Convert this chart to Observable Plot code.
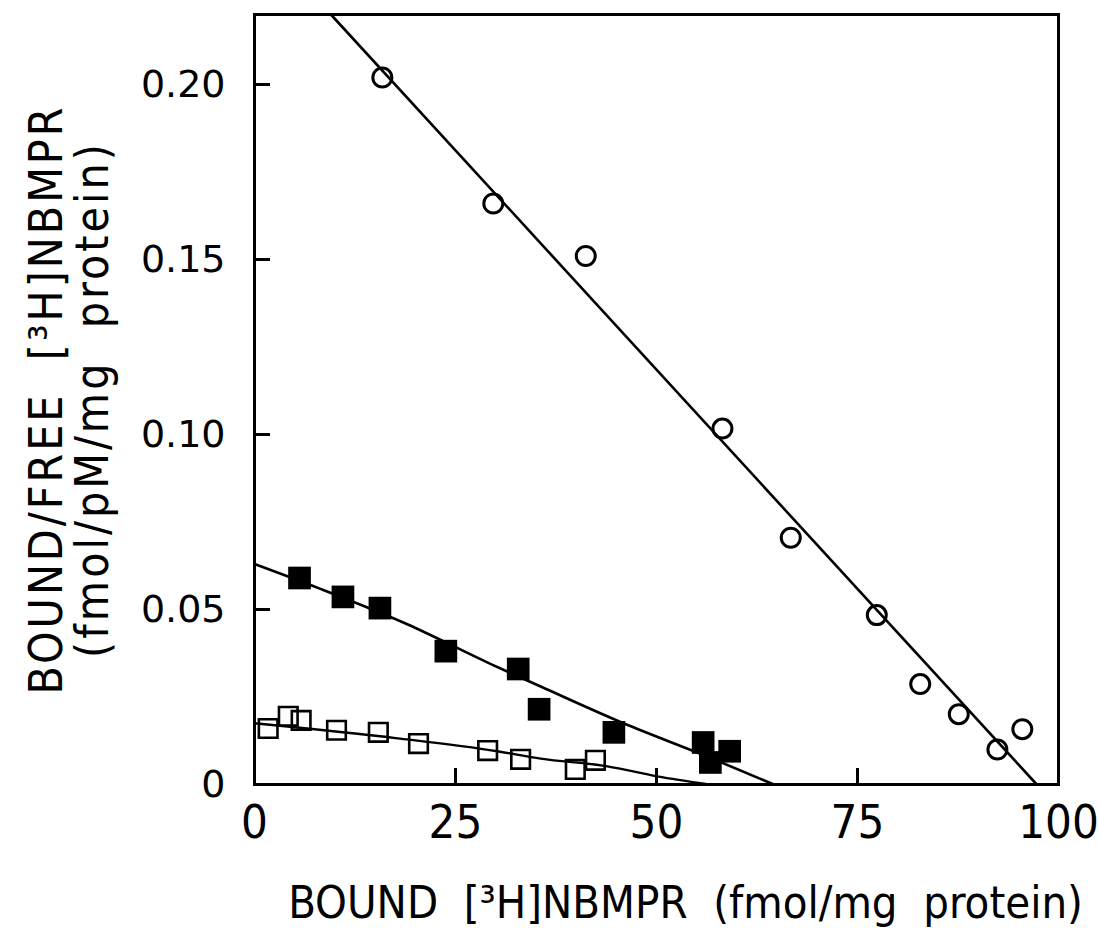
<!DOCTYPE html>
<html>
<head>
<meta charset="utf-8">
<script src="https://cdn.jsdelivr.net/npm/d3@7"></script>
<script src="https://cdn.jsdelivr.net/npm/@observablehq/plot@0.6"></script>
<style>
  html, body { margin: 0; padding: 0; background: #fff; }
  #chart svg { display: block; }
</style>
</head>
<body>
<div id="chart"></div>
<script>
// Open circles
const circleX = [15.9, 29.7, 41.2, 58.2, 66.7, 77.4, 82.8, 87.6, 92.4, 95.5];
const circleY = [0.202, 0.166, 0.151, 0.1017, 0.0705, 0.0484, 0.0287, 0.0201, 0.0100, 0.0158];
// Filled squares
const filledX = [5.6, 11.0, 15.6, 23.8, 32.8, 35.4, 44.7, 55.8, 56.7, 59.1];
const filledY = [0.059, 0.0536, 0.0504, 0.0381, 0.033, 0.0215, 0.0149, 0.0120, 0.0063, 0.0095];
// Open squares
const openX = [1.7, 4.2, 5.8, 10.2, 15.4, 20.4, 29.0, 33.1, 39.9, 42.4];
const openY = [0.016, 0.0195, 0.0183, 0.0155, 0.0149, 0.0117, 0.0097, 0.0072, 0.0043, 0.0069];
// Fitted lines
const circleLineX = [9.5, 97.3];
const circleLineY = [0.22, 0];
const filledLineX = [0, 8.2, 19.0, 29.4, 35.6, 45.9, 56.3, 64.6];
const filledLineY = [0.063, 0.0559, 0.0458, 0.0344, 0.0280, 0.0175, 0.0080, 0];
const openLineX = [0, 17.8, 30.2, 35.6, 43.9, 50.1, 56.5];
const openLineY = [0.0175, 0.0132, 0.0095, 0.0074, 0.0052, 0.0023, 0];
// Axes
const xTicks = [0, 25, 50, 75, 100];
const xInnerTicks = [25, 50, 75];
const yTicks = [0, 0.05, 0.10, 0.15, 0.20];
const yInnerTicks = [0.05, 0.10, 0.15, 0.20];
const xTitle = "BOUND  [³H]NBMPR  (fmol/mg  protein)";
const yTitle = "BOUND/FREE  [³H]NBMPR\n(fmol/pM/mg  protein)";

const pts = (xs, ys) => xs.map((x, i) => ({x, y: ys[i]}));
const circles = pts(circleX, circleY);
const filled = pts(filledX, filledY);
const open = pts(openX, openY);
const circleLine = pts(circleLineX, circleLineY);
const filledLine = pts(filledLineX, filledLineY);
const openLine = pts(openLineX, openLineY);

const narrow = "'Liberation Sans Narrow', 'DejaVu Sans Condensed', 'Arial Narrow', sans-serif";

const W = 1100, H = 934, ML = 254, MR = 42, MT = 14, MB = 150;
const tickLen = 16;

const chart = Plot.plot({
  width: W,
  height: H,
  marginLeft: ML,
  marginRight: MR,
  marginTop: MT,
  marginBottom: MB,
  style: {background: "#fff", color: "#000"},
  x: {domain: [0, 100]},
  y: {domain: [0, 0.22]},
  marks: [
    Plot.line(circleLine, {x: "x", y: "y", stroke: "#000", strokeWidth: 2.6}),
    Plot.line(filledLine, {x: "x", y: "y", stroke: "#000", strokeWidth: 2.6, curve: "monotone-x"}),
    Plot.line(openLine, {x: "x", y: "y", stroke: "#000", strokeWidth: 2.3, curve: "monotone-x"}),
    Plot.dot(circles, {x: "x", y: "y", r: 9.5, stroke: "#000", strokeWidth: 3, fill: "none"}),
    Plot.dot(filled, {x: "x", y: "y", symbol: "square", r: 12.8, fill: "#000", stroke: "none"}),
    Plot.dot(open, {x: "x", y: "y", symbol: "square", r: 10.5, stroke: "#000", strokeWidth: 2.6, fill: "none"}),
    Plot.frame({stroke: "#000", strokeWidth: 3}),
    // inward tick marks
    Plot.tickY(yInnerTicks, {
      y: d => d,
      stroke: "#000",
      strokeWidth: 3,
      insetRight: (W - ML - MR) - tickLen
    }),
    Plot.tickX(xInnerTicks, {
      x: d => d,
      stroke: "#000",
      strokeWidth: 3,
      insetTop: (H - MT - MB) - tickLen
    }),
    // tick labels
    Plot.axisY({
      ticks: yTicks,
      tickSize: 0,
      tickPadding: 29,
      tickFormat: d => d === 0 ? "0" : d.toFixed(2),
      fontSize: 38,
      fontFamily: "'DejaVu Sans', sans-serif",
      label: null
    }),
    Plot.axisX({
      ticks: xTicks,
      tickSize: 0,
      tickPadding: 20,
      fontSize: 47,
      fontFamily: narrow,
      label: null
    }),
    Plot.text([xTitle], {
      frameAnchor: "bottom",
      dy: 119,
      dx: 29,
      fontSize: 45,
      fontFamily: narrow,
      lineAnchor: "middle",
      fill: "#000"
    }),
    Plot.text([yTitle], {
      frameAnchor: "left",
      rotate: -90,
      dx: -184.5,
      fontSize: 46,
      lineHeight: 1.0,
      fontFamily: narrow,
      textAnchor: "middle",
      lineAnchor: "middle",
      fill: "#000"
    })
  ]
});
d3.select(chart).selectAll("text").filter(function() {
  return this.textContent.includes("BOUND/FREE") || this.textContent.includes("fmol/pM");
}).style("letter-spacing", "3px");
document.getElementById("chart").appendChild(chart);
</script>
</body>
</html>
